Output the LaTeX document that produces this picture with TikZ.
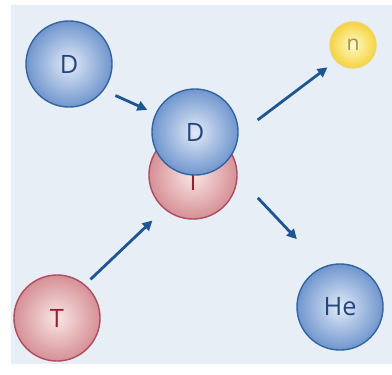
\documentclass[tikz,border=0pt]{standalone}
\usepackage{fontspec}
\setmainfont{Open Sans}
\usetikzlibrary{arrows.meta}
\definecolor{bgblue}{RGB}{232,238,246}
\definecolor{dline}{RGB}{52,100,160}
\definecolor{din}{RGB}{226,234,248}
\definecolor{dout}{RGB}{112,150,206}
\definecolor{dtext}{RGB}{36,70,124}
\definecolor{tline}{RGB}{172,78,96}
\definecolor{tin}{RGB}{249,230,228}
\definecolor{tout}{RGB}{214,144,150}
\definecolor{ttext}{RGB}{146,34,50}
\definecolor{nline}{RGB}{240,212,104}
\definecolor{nin}{RGB}{255,250,200}
\definecolor{nout}{RGB}{245,212,64}
\definecolor{ntext}{RGB}{160,146,92}
\definecolor{arrblue}{RGB}{30,86,148}

\begin{document}
\begin{tikzpicture}[x=0.025cm, y=-0.025cm,
    ball/.style={circle, line width=1pt, inner sep=0pt,
        font=\fontsize{18}{20}\selectfont},
    dball/.style={ball, draw=dline, inner color=din, outer color=dout,
        text=dtext, minimum size=2.15cm},
    tball/.style={ball, draw=tline, inner color=tin, outer color=tout,
        text=ttext, minimum size=2.15cm},
    nball/.style={ball, draw=nline, inner color=nin, outer color=nout,
        text=ntext, minimum size=1.15cm, font=\fontsize{15}{17}\selectfont},
    arr/.style={line width=2pt, draw=arrblue,
        -{Triangle[length=7pt, width=7pt]}}]

    \useasboundingbox (0,0) rectangle (392,374);
    \fill[white] (0,0) rectangle (392,374);
    \fill[bgblue] (11,5) rectangle (392,364);

    % incoming nuclei
    \node[dball] (d1) at (69,64) {D};
    \node[tball] (t1) at (57,318) {T};

    % collision: T behind D
    \node[tball, minimum size=2.2cm, text height=21.4pt] (t2) at (193,175) {T};
    \node[dball] (d2) at (195,132) {D};

    % products
    \node[nball] (n) at (353,45) {n};
    \node[dball] (he) at (340,307) {He};

    \draw[arr, shorten <=9pt, shorten >=6.3pt] (d1.-37) -- (d2.155);
    \draw[arr, shorten <=5.3pt, shorten >=11.6pt] (t1.50) -- (t2.230);
    \draw[arr, shorten <=16.9pt, shorten >=7.3pt] (d2.-3) -- (n.223);
    \draw[arr, shorten <=20.8pt, shorten >=27pt] (t2.-2) -- (he.113);

\end{tikzpicture}
\end{document}
